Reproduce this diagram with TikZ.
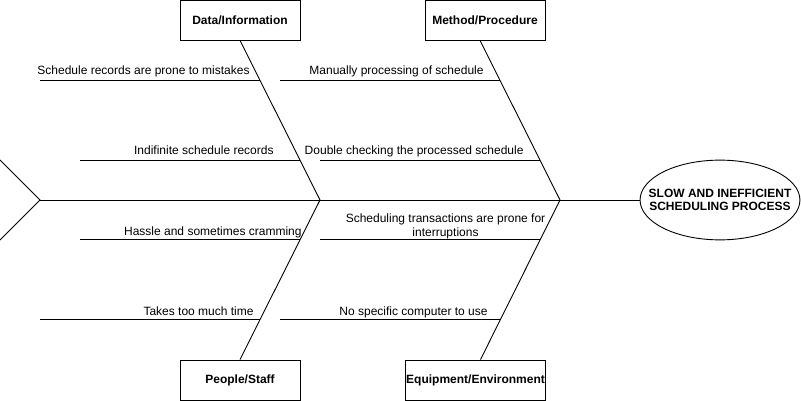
\documentclass[tikz,border=0pt]{standalone}
\usepackage{fontspec}
\setmainfont{Liberation Sans}
\usetikzlibrary{shapes.geometric, calc}

\begin{document}
\begin{tikzpicture}[x=1pt, y=-1pt, line width=0.9pt,
	txt/.style = {font=\fontsize{12}{14}\selectfont},
	cat/.style = {draw, minimum width=120pt, minimum height=40pt, inner sep=0pt, font=\fontsize{12}{14}\selectfont\bfseries},
	cause/.style = {txt, anchor=base east, inner sep=0pt}]
	\useasboundingbox (0,0) rectangle (801,401);
	% category boxes
	\node[cat] (data) at (240,20) {Data/Information};
	\node[cat] (method) at (485,20) {Method/Procedure};
	\node[cat] (people) at (240,380) {People/Staff};
	\node[cat, minimum width=140pt] (equip) at (475.5,380) {Equipment/Environment};
	\node[draw, ellipse, inner xsep=-14.8pt, inner ysep=17.2pt, align=center, font=\fontsize{12}{13.5}\selectfont\bfseries] (effect) at (720,200) {SLOW AND INEFFICIENT\\SCHEDULING PROCESS};
	% spine
	\coordinate (head) at (40,200);
	\coordinate (h1) at (0,160);
	\coordinate (h2) at (0,240);
	\coordinate (s1) at (320,200);
	\coordinate (s2) at (560,200);
	\draw (h1) -- (head) -- (h2);
	\draw (head) -- (effect);
	% bones
	\draw (data.south) -- (s1);
	\draw ([xshift=-5pt]method.south) -- (s2);
	\draw (people.north) -- (s1);
	\draw ([xshift=5pt]equip.north) -- (s2);
	\coordinate (d1) at ($(data.south)!.25!(s1)$);
	\coordinate (d2) at ($(data.south)!.75!(s1)$);
	\coordinate (m1) at ($([xshift=-5pt]method.south)!.25!(s2)$);
	\coordinate (m2) at ($([xshift=-5pt]method.south)!.75!(s2)$);
	\coordinate (p1) at ($(s1)!.25!(people.north)$);
	\coordinate (p2) at ($(s1)!.75!(people.north)$);
	\coordinate (e1) at ($(s2)!.25!([xshift=5pt]equip.north)$);
	\coordinate (e2) at ($(s2)!.75!([xshift=5pt]equip.north)$);
	\foreach \r in {d1,d2,m1,m2,p1,p2,e1,e2}
		\draw (\r) -- ++(-220,0);
	% causes
	\node[cause] (c1) at (250,75) {Schedule records are prone to mistakes};
	\node[cause] (c2) at (274,155) {Indifinite schedule records};
	\node[cause] (c3) at (484,75) {Manually processing of schedule};
	\node[cause] (c4) at (524,155) {Double checking the processed schedule};
	\node[cause] (c5) at (302,235) {Hassle and sometimes cramming};
	\node[txt, align=center, inner sep=0pt] (c6) at (445.5,226.5) {Scheduling transactions are prone for\\interruptions};
	\node[cause] (c7) at (254,315) {Takes too much time};
	\node[cause] (c8) at (488,315) {No specific computer to use};
\end{tikzpicture}
\end{document}
